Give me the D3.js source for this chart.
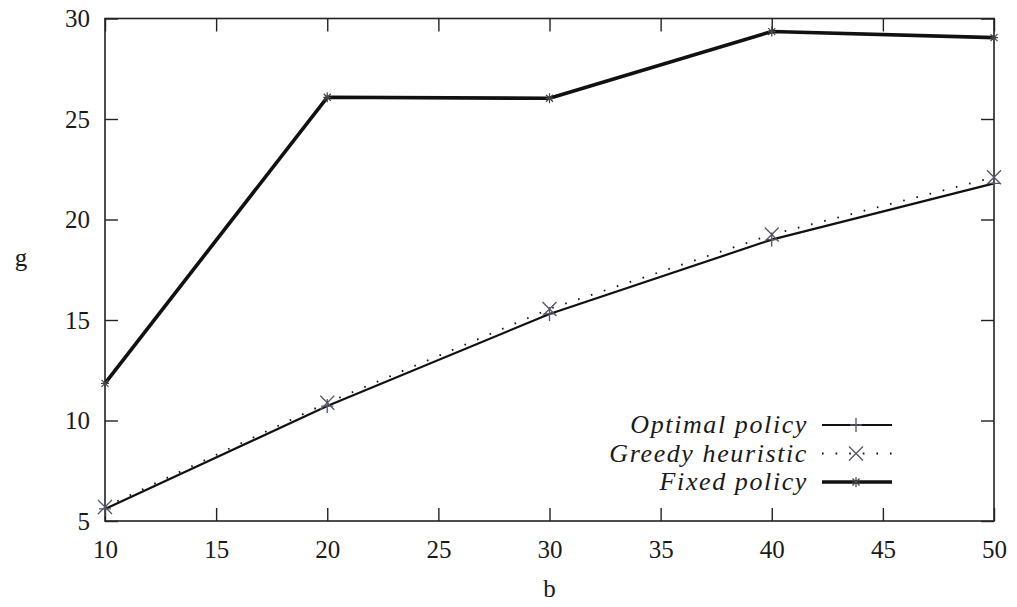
<!DOCTYPE html>
<html>
<head>
<meta charset="utf-8">
<script src="https://cdn.jsdelivr.net/npm/d3@7"></script>
<style>
  body { margin: 0; background: #fff; }
  svg { display: block; }
</style>
</head>
<body>
<svg id="chart" width="1017" height="607"></svg>
<script>
// data
var bValues = [10, 20, 30, 40, 50];
var optimalPolicy = [5.6, 10.72, 15.3, 19.0, 21.8];
var greedyHeuristic = [5.7, 10.88, 15.55, 19.25, 22.1];
var fixedPolicy = [11.85, 26.08, 26.03, 29.35, 29.05];
var xTicks = [10, 15, 20, 25, 30, 35, 40, 45, 50];
var yTicks = [5, 10, 15, 20, 25, 30];
var legendLabels = ["Optimal policy", "Greedy heuristic", "Fixed policy"];

var FONT = "'Liberation Serif', 'Times New Roman', serif";

var svg = d3.select("#chart"),
    MARGINS = { top: 18.5, right: 23, bottom: 86, left: 105 },
    WIDTH = 1017,
    HEIGHT = 607;

var xScale = d3.scaleLinear().domain([10, 50]).range([MARGINS.left, WIDTH - MARGINS.right]);
var yScale = d3.scaleLinear().domain([5, 30]).range([HEIGHT - MARGINS.bottom, MARGINS.top]);

var TICK = 13;

// axes, ticks pointing inward, mirrored on top and right
var xAxis = d3.axisBottom(xScale).tickValues(xTicks).tickSize(-TICK).tickPadding(19).tickFormat(d3.format("d"));
var yAxis = d3.axisLeft(yScale).tickValues(yTicks).tickSize(-TICK).tickPadding(15).tickFormat(d3.format("d"));

svg.append("g")
  .attr("transform", "translate(0," + yScale(5) + ")")
  .call(xAxis);
svg.append("g")
  .attr("transform", "translate(" + xScale(10) + ",0)")
  .call(yAxis);

svg.append("g")
  .attr("transform", "translate(0," + yScale(30) + ")")
  .call(d3.axisTop(xScale).tickValues(xTicks).tickSize(-TICK).tickFormat(""));
svg.append("g")
  .attr("transform", "translate(" + xScale(50) + ",0)")
  .call(d3.axisRight(yScale).tickValues(yTicks).tickSize(-TICK).tickFormat(""));

svg.selectAll(".domain").remove();
svg.selectAll(".tick line").attr("stroke", "#222").attr("stroke-width", 1.4);
svg.selectAll(".tick text")
  .style("font-family", FONT).style("font-size", "25px").style("fill", "#1a1a1a");

// frame
svg.append("rect")
  .attr("x", xScale(10)).attr("y", yScale(30))
  .attr("width", xScale(50) - xScale(10))
  .attr("height", yScale(5) - yScale(30))
  .attr("fill", "none").attr("stroke", "#222").attr("stroke-width", 1.6);

// axis titles
svg.append("text").attr("x", xScale(30)).attr("y", 597)
  .attr("text-anchor", "middle")
  .style("font-family", FONT).style("font-size", "25px").style("fill", "#1a1a1a")
  .text("b");
svg.append("text").attr("x", 21).attr("y", 266)
  .attr("text-anchor", "middle")
  .style("font-family", FONT).style("font-size", "25px").style("fill", "#1a1a1a")
  .text("g");

var lineGen = d3.line()
  .x(function(d, i) { return xScale(bValues[i]); })
  .y(function(d) { return yScale(d); });

// marker painters
function plusMark(g, x, y) {
  g.append("path").attr("d", "M" + (x - 6) + "," + y + "H" + (x + 6) + "M" + x + "," + (y - 7) + "V" + (y + 7))
    .attr("stroke", "#556").attr("stroke-width", 1.3).attr("fill", "none");
}
function crossMark(g, x, y) {
  g.append("path").attr("d", "M" + (x - 7) + "," + (y - 7) + "L" + (x + 7) + "," + (y + 7) + "M" + (x - 7) + "," + (y + 7) + "L" + (x + 7) + "," + (y - 7))
    .attr("stroke", "#556").attr("stroke-width", 1.3).attr("fill", "none");
}
function starMark(g, x, y) {
  g.append("path").attr("d", "M" + (x - 4) + "," + y + "H" + (x + 4) + "M" + x + "," + (y - 5) + "V" + (y + 5) +
      "M" + (x - 3.5) + "," + (y - 3.5) + "L" + (x + 3.5) + "," + (y + 3.5) + "M" + (x - 3.5) + "," + (y + 3.5) + "L" + (x + 3.5) + "," + (y - 3.5))
    .attr("stroke", "#444").attr("stroke-width", 1.2).attr("fill", "none");
}

var series = [
  { values: optimalPolicy, width: 2.2, dash: null, mark: plusMark },
  { values: greedyHeuristic, width: 1.8, dash: "1.6,12", mark: crossMark },
  { values: fixedPolicy, width: 3.6, dash: null, mark: starMark }
];

series.forEach(function(s) {
  svg.append("path")
    .attr("d", lineGen(s.values))
    .attr("stroke", "#111")
    .attr("stroke-width", s.width)
    .attr("stroke-dasharray", s.dash)
    .attr("stroke-linejoin", "round")
    .attr("fill", "none");
  var g = svg.append("g");
  s.values.forEach(function(v, i) { s.mark(g, xScale(bValues[i]), yScale(v)); });
});

// legend
var legX = 808, legY = 425, legStep = 28.5;
series.forEach(function(s, i) {
  var y = legY + i * legStep;
  svg.append("text").attr("x", legX).attr("y", y + 8)
    .attr("text-anchor", "end")
    .style("font-family", FONT).style("font-size", "26px").style("font-style", "italic")
    .style("letter-spacing", "1.6px").style("fill", "#1a1a1a")
    .text(legendLabels[i]);
  svg.append("line").attr("x1", 822).attr("x2", 892).attr("y1", y).attr("y2", y)
    .attr("stroke", "#111").attr("stroke-width", s.width).attr("stroke-dasharray", s.dash);
  s.mark(svg.append("g"), 856, y);
});
</script>
</body>
</html>
